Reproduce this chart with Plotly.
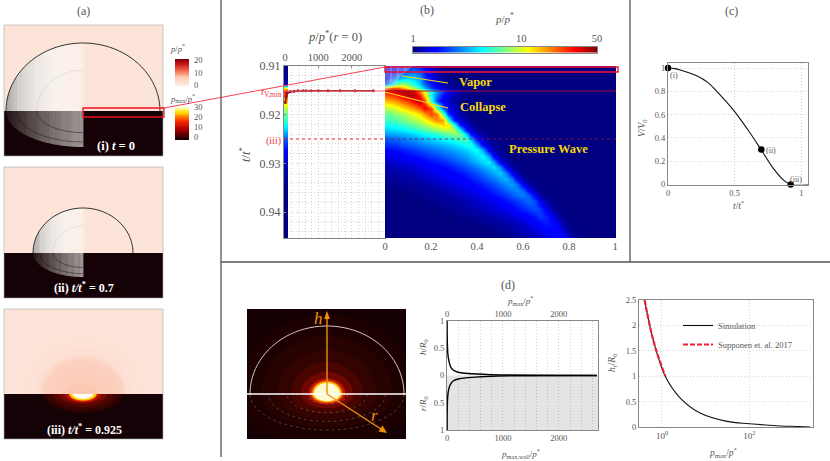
import numpy as np
import plotly.graph_objects as go

W, H = 830, 461
FONT = "Liberation Serif"
GREY = "#555555"

# ---------- panel (b): pressure field (jet level 0-9.5) ----------
r_cols = [i * .025 for i in range(41)]
t_rows = [.91, .91123, .91246, .9137, .91452, .91513, .91595, .91719, .91862, .91986, .92099, .92211, .92304,
          .92396, .92499, .92622, .92735, .92848, .92971, .93084, .93207, .9332, .93423, .93536, .93639, .93782,
          .93926, .9408, .94244, .94429, .94593]
levels = [
    [.8, .9, 1, 1.2, 1.5, 1.6, 1.4, 1, .6, .3, .1],
    [.9, 1, 1.4, 1.8, 2.2, 2.4, 2, 1.4, .8, .4, .1],
    [1, 1.8, 2.6, 3, 3.2, 3, 2.6, 1.6, 1, .5, .2, .1],
    [2, 3.2, 4.5, 5, 4.6, 3.8, 3, 2, 1.4, .8, .4, .2, .1],
    [7, 7.3, 7.5, 7, 6, 5, 3.8, 2.8, 1.8, 1.2, .7, .4, .2, .1],
    [8, 8.5, 8.8, 9, 9, 8.5, 7, 5.5, 3.8, 2.6, 1.8, 1, .7, .4, .2, .1],
    [7.5, 7.8, 8.2, 8.6, 9, 9, 8, 6, 3.6, 2.2, 1.3, .8, .4, .2, .1],
    [6.5, 6.7, 7, 7.4, 7.8, 8.4, 8.9, 7.5, 4, 1.8, 1, .6, .3, .1],
    [5.3, 5.5, 5.8, 6.2, 6.6, 7, 7.6, 8.4, 7.6, 4.5, 2, 1, .6, .3, .1],
    [4.5, 4.6, 4.9, 5.1, 5.4, 5.8, 6.2, 6.9, 7.7, 7.2, 4.5, 1.8, .8, .4, .1],
    [4.1, 4.2, 4.4, 4.6, 4.9, 5.2, 5.5, 5.9, 6.5, 7.1, 6.8, 4, 1.5, .7, .3, .1],
    [3.6, 3.7, 3.8, 4, 4.2, 4.5, 4.8, 5.1, 5.5, 5.9, 6.3, 6.2, 4, 1.5, .7, .3, .1],
    [3.1, 3.2, 3.3, 3.4, 3.6, 3.8, 4.1, 4.3, 4.6, 4.9, 5.2, 5.4, 5.3, 3.6, 1.4, .6, .2, .1],
    [2.6, 2.7, 2.8, 2.9, 3, 3.2, 3.4, 3.6, 3.8, 4, 4.3, 4.5, 4.8, 4.7, 3.2, 1.3, .6, .2, .1],
    [2, 2.1, 2.2, 2.3, 2.5, 2.6, 2.8, 3, 3.1, 3.3, 3.5, 3.7, 3.9, 4.2, 4.2, 2.9, 1.2, .5, .2, .1],
    [1.6, 1.6, 1.7, 1.9, 2, 2.1, 2.3, 2.4, 2.6, 2.7, 2.9, 3, 3.2, 3.4, 3.7, 3.9, 2.7, 1.1, .5, .2, .1],
    [1.2, 1.2, 1.3, 1.4, 1.5, 1.7, 1.8, 2, 2.1, 2.3, 2.4, 2.6, 2.7, 2.9, 3.1, 3.4, 3.7, 2.7, 1, .4, .1],
    [.9, .9, 1, 1.1, 1.2, 1.3, 1.4, 1.5, 1.7, 1.8, 2, 2.1, 2.3, 2.5, 2.7, 3, 3.3, 3.6, 2.6, 1, .4, .1],
    [.6, .6, .7, .8, .8, .9, 1, 1.1, 1.3, 1.4, 1.5, 1.7, 1.9, 2.1, 2.3, 2.6, 2.9, 3.2, 3.5, 2.6, 1, .3, .1],
    [.4, .4, .5, .5, .6, .7, .8, .9, 1, 1.1, 1.2, 1.3, 1.5, 1.7, 1.9, 2.1, 2.4, 2.7, 3, 3.3, 2.5, 1, .3, .1],
    [.3, .3, .3, .4, .4, .5, .6, .7, .8, .9, 1, 1.1, 1.2, 1.3, 1.5, 1.7, 1.9, 2.2, 2.5, 2.8, 3.1, 2.4, 1, .3, .1],
    [.2, .2, .2, .3, .3, .3, .4, .5, .6, .7, .8, .9, 1, 1.1, 1.2, 1.4, 1.6, 1.8, 2.1, 2.3, 2.6, 2.9, 2.3, 1, .3, .1],
    [.1, .1, .1, .2, .2, .2, .3, .3, .4, .5, .6, .7, .8, .9, 1, 1.1, 1.3, 1.5, 1.7, 1.9, 2.2, 2.5, 2.7, 2.2, 1, .3, .1],
    [0, 0, 0, .1, .1, .1, .2, .2, .3, .3, .4, .5, .6, .7, .8, .9, 1, 1.2, 1.4, 1.6, 1.8, 2.1, 2.3, 2.5, 2.1, 1, .3, .1],
    [0, 0, 0, 0, 0, .1, .1, .1, .2, .2, .3, .3, .4, .5, .6, .7, .8, 1, 1.1, 1.3, 1.5, 1.7, 2, 2.2, 2.4, 2, 1, .3, .1],
    [0, 0, 0, 0, 0, 0, 0, .1, .1, .1, .2, .2, .3, .3, .4, .5, .6, .7, .8, .9, 1.1, 1.3, 1.5, 1.7, 1.9, 2.2, 1.9, 1, .3, .1],
    [0, 0, 0, 0, 0, 0, 0, 0, 0, 0, .1, .1, .2, .2, .3, .3, .4, .5, .6, .7, .8, .9, 1.1, 1.3, 1.5, 1.7, 1.9, 1.7, 1, .3, .1],
    [0, 0, 0, 0, 0, 0, 0, 0, 0, 0, 0, 0, 0, .1, .1, .2, .2, .3, .3, .4, .5, .6, .7, .9, 1, 1.2, 1.4, 1.7, 1.5, 1, .3, .1],
    [0, 0, 0, 0, 0, 0, 0, 0, 0, 0, 0, 0, 0, 0, 0, 0, 0, .1, .1, .2, .2, .3, .4, .5, .6, .8, 1, 1.2, 1.4, 1.3, .9, .3, .1],
    [0, 0, 0, 0, 0, 0, 0, 0, 0, 0, 0, 0, 0, 0, 0, 0, 0, 0, 0, 0, .1, .1, .2, .3, .4, .5, .6, .8, 1, 1.2, 1.2, .9, .3, .1],
    [0, 0, 0, 0, 0, 0, 0, 0, 0, 0, 0, 0, 0, 0, 0, 0, 0, 0, 0, 0, 0, 0, 0, 0, .1, .2, .3, .4, .5, .7, .9, 1.1, 1, .3, .1],
]
# colour of the narrow strip at r = 0, same rows as t_rows
axis_levels = [.1, .1, .2, .5, 6, 8, 7.5, 6.5, 5.3, 4.5, 4.1, 3.6, 3.1, 2.6, 2, 1.6, 1.2, .9, .6, .4, .3, .2, .1, .05, 0,
               0, 0, 0, 0, 0, 0]
p_axis_t = [.9175, .9162, .9156, .9153, .9152, .9151, .9151, .9151, .9151, .9151, .9151, .9151, .9151, .9151]
p_axis_p = [10, 30, 60, 150, 270, 390, 540, 630, 780, 1000, 1290, 1650, 2100, 2650]

# ---------- panel (c) ----------
c_t = [0, .05, .1, .215, .3, .366, .5, .617, .7, .79, .867, .92, 1.05]
c_v = [1, .995, .98, .934, .875, .80, .626, .44, .296, .138, .037, 0, 0]
c_mark_t = [0, .7, .92]
c_mark_v = [1, .3, 0]

# ---------- panel (d) ----------
d_h = [1, .8, .6, .5, .4, .3, .2, .15, .1, .06, .04, .02, .01, .005, 0]
d_ph = [2, 3, 6, 10, 15, 28, 50, 70, 110, 200, 320, 700, 1100, 1700, 2680]
d_r = [1, .8, .6, .4, .3, .2, .15, .1, .06, .03, .01, .005, 0]
d_pr = [2, 3, 5, 12, 22, 45, 70, 110, 220, 500, 900, 1500, 2680]
sim_p = [.40, .645, 1.19, 2.63, 7.5, 31, 100, 430, 1300, 2500]
sim_h = [2.5, 1.68, 1.0, .57, .275, .11, .065, .026, .01, 0]
sup_p = [.40, .645, 1.19]
sup_h = [2.5, 1.68, 1.0]

fig = go.Figure()
n_ax = 0

JET = [[0, "rgb(0,0,128)"], [.11, "rgb(0,0,255)"], [.125, "rgb(0,0,255)"], [.375, "rgb(0,255,255)"],
       [.625, "rgb(255,255,0)"], [.875, "rgb(255,0,0)"], [1, "rgb(128,0,0)"]]


def new_axes(x0, x1, y0, y1, xa, ya):
    """axes placed by canvas pixels"""
    global n_ax
    n_ax += 1
    s = "" if n_ax == 1 else str(n_ax)
    base = dict(showgrid=False, zeroline=False, ticks="", showticklabels=False, automargin=False,
                tickfont=dict(family=FONT, size=9, color=GREY))
    fig.layout["xaxis" + s] = dict(base, domain=[x0 / W, x1 / W], anchor="y" + s, **xa)
    fig.layout["yaxis" + s] = dict(base, domain=[1 - y1 / H, 1 - y0 / H], anchor="x" + s, **ya)
    return "x" + s, "y" + s


FRAME = dict(showline=True, linecolor="#888888", linewidth=1, mirror=True)
DOT = "rgba(120,120,120,.3)"
DASH = "1px,2px"

# colourbars of (a)
rd = [[0, "#fff0e8"], [.35, "#fdc8b0"], [.6, "#f06040"], [.85, "#c01018"], [1, "#7a0008"]]
hot = [[0, "#0a0000"], [.35, "#b00000"], [.6, "#ff3000"], [.85, "#ffe000"], [1, "#ffffc0"]]
ramp = list(np.linspace(0, 1, 40))
xa, ya = new_axes(175, 189, 59, 86, dict(range=[0, 1]), dict(range=[0, 21.5]))
fig.add_heatmap(x=[0, 1], y=list(np.linspace(0, 21.5, 40)), z=[[v, v] for v in ramp], colorscale=rd,
                showscale=False, zsmooth="best", xaxis=xa, yaxis=ya)
xa, ya = new_axes(175, 189, 107, 140, dict(range=[0, 1]), dict(range=[-3, 30]))
fig.add_heatmap(x=[0, 1], y=list(np.linspace(-3, 30, 40)), z=[[v, v] for v in ramp], colorscale=hot,
                showscale=False, zsmooth="best", xaxis=xa, yaxis=ya)

# left strip of (b)
T_BOT = .91 + (238 - 66) / 4870
SCALE = np.log10(50) / 9.5
xa, ya = new_axes(284, 385, 66, 238,
                  dict(FRAME, range=[-30, 3000], side="top", showticklabels=True, tickvals=[0, 1000, 2000],
                       tickfont=dict(family=FONT, size=10.5, color=GREY), ticks="inside", ticklen=2,
                       tickcolor="#888", minor=dict(dtick=200, showgrid=True, gridcolor=DOT, griddash=DASH, gridwidth=.7)),
                  dict(FRAME, range=[T_BOT, .91], showticklabels=True, tickvals=[.91, .92, .93, .94],
                       ticktext=["0.91", "0.92", "0.93", "0.94"],
                       tickfont=dict(family=FONT, size=12, color=GREY), ticks="inside", ticklen=2,
                       tickcolor="#888", minor=dict(dtick=.002, showgrid=True, gridcolor=DOT, griddash=DASH, gridwidth=.7)))
z_vals = np.array([r + [0] * (41 - len(r)) for r in levels], float) * SCALE
fig.add_heatmap(x=[-30, 48], y=t_rows, z=[[v * SCALE, v * SCALE] for v in axis_levels], colorscale=JET,
                zmin=0, zmax=np.log10(50), showscale=False, zsmooth="best", xaxis=xa, yaxis=ya)
fig.add_scatter(x=p_axis_p, y=p_axis_t, mode="lines+markers", line=dict(color="#7a0a14", width=1.5),
                marker=dict(color="#a01020", size=3), showlegend=False, xaxis=xa, yaxis=ya)

# main map of (b)
xa, ya = new_axes(385, 616, 66, 238,
                  dict(range=[0, 1.004], showticklabels=True, side="bottom", tickvals=[0, .2, .4, .6, .8, 1],
                       ticktext=["0", "0.2", "0.4", "0.6", "0.8", "1"],
                       tickfont=dict(family=FONT, size=10.5, color=GREY)),
                  dict(range=[T_BOT, .91]))
fig.add_heatmap(x=r_cols, y=t_rows, z=z_vals.tolist(), colorscale=JET, zmin=0, zmax=np.log10(50),
                showscale=False, zsmooth="best", xaxis=xa, yaxis=ya)

# colourbar of (b)
cb_vals = list(np.linspace(0, np.log10(50), 80))
xa, ya = new_axes(413, 597, 47, 52.5,
                  dict(FRAME, range=[0, np.log10(50)], side="top", showticklabels=True, tickvals=[0, 1, np.log10(50)],
                       ticktext=["1", "10", "50"], tickfont=dict(family=FONT, size=10.5, color=GREY)),
                  dict(FRAME, range=[0, 1]))
fig.add_heatmap(x=cb_vals, y=[0, 1], z=[cb_vals, cb_vals], colorscale=JET, zmin=0, zmax=np.log10(50),
                showscale=False, zsmooth="best", xaxis=xa, yaxis=ya)

# panel (c)
small = dict(family=FONT, size=8.5, color=GREY)
xa, ya = new_axes(668, 808, 63, 184.5,
                  dict(FRAME, range=[0, 1.05], showticklabels=True, tickvals=[0, .5, 1], ticktext=["0", "0.5", "1"],
                       tickfont=small, showgrid=True, gridcolor=DOT, griddash=DASH, gridwidth=.7),
                  dict(FRAME, range=[0, 1.043], showticklabels=True, tickvals=[0, .2, .4, .6, .8, 1],
                       ticktext=["0", "0.2", "0.4", "0.6", "0.8", "1"], tickfont=small,
                       showgrid=True, gridcolor=DOT, griddash=DASH, gridwidth=.7))
fig.add_scatter(x=c_t, y=c_v, mode="lines", line=dict(color="#111", width=1.1, shape="spline"),
                showlegend=False, xaxis=xa, yaxis=ya)
fig.add_scatter(x=c_mark_t, y=c_mark_v, mode="markers", marker=dict(color="#000", size=6.5), cliponaxis=False,
                showlegend=False, xaxis=xa, yaxis=ya)

# panel (d) middle
xa, ya = new_axes(447, 598, 321, 430,
                  dict(FRAME, range=[0, 2700], showticklabels=True, tickvals=[0, 1000, 2000], tickfont=small,
                       minor=dict(dtick=200, showgrid=True, gridcolor="rgba(120,120,120,.35)", griddash=DASH, gridwidth=.7)),
                  dict(FRAME, range=[-1, 1], showticklabels=True, tickvals=[-1, -.5, 0, .5, 1],
                       ticktext=["1", "0.5", "0", "0.5", "1"], tickfont=small))
fig.add_shape(type="rect", xref=xa, yref=ya, x0=0, x1=2700, y0=-1, y1=0, fillcolor="#e4e4e4",
              line_width=0, layer="below")
fig.add_scatter(x=d_ph, y=d_h, mode="lines", line=dict(color="#000", width=1.4, shape="spline"),
                showlegend=False, xaxis=xa, yaxis=ya)
fig.add_scatter(x=d_pr, y=[-v for v in d_r], mode="lines", line=dict(color="#000", width=1.4, shape="spline"),
                showlegend=False, xaxis=xa, yaxis=ya)
# top tick axis of (d) middle
xa2, ya2 = new_axes(447, 598, 320, 321,
                    dict(range=[0, 2700], side="top", showticklabels=True, tickvals=[0, 1000, 2000], tickfont=small),
                    dict(range=[0, 1]))
fig.add_scatter(x=[0], y=[-1], mode="markers", marker=dict(opacity=0), showlegend=False, hoverinfo="skip",
                xaxis=xa2, yaxis=ya2)

# panel (d) right
xa, ya = new_axes(639, 813, 300, 427,
                  dict(FRAME, type="log", range=[-.526, 3.46], showticklabels=True, tickvals=[1, 100],
                       ticktext=["10<sup>0</sup>", "10<sup>2</sup>"], tickfont=dict(family=FONT, size=9, color=GREY),
                       showgrid=True, gridcolor=DOT, griddash=DASH, gridwidth=.7),
                  dict(FRAME, range=[0, 2.5], showticklabels=True, tickvals=[0, .5, 1, 1.5, 2, 2.5],
                       ticktext=["0", "0.5", "1", "1.5", "2", "2.5"], tickfont=small,
                       showgrid=True, gridcolor=DOT, griddash=DASH, gridwidth=.7))
fig.add_scatter(x=sim_p, y=sim_h, mode="lines", name="Simulation", line=dict(color="#111", width=1.1, shape="spline"),
                xaxis=xa, yaxis=ya)
fig.add_scatter(x=sup_p, y=sup_h, mode="lines", name="Supponen et. al. 2017",
                line=dict(color="#f02038", width=2.2, dash="5px,2px", shape="spline"), xaxis=xa, yaxis=ya)

# overlay axes in canvas pixels, for the illustrations
ox, oy = new_axes(0, 830, 0, 461, dict(range=[0, W], visible=False), dict(range=[H, 0], visible=False))
shapes = []


def sh(path, fill=None, line=None, lw=1, dash=None):
    d = dict(type="path", path=path, xref=ox, yref=oy, layer="above")
    d["fillcolor"] = fill if fill else "rgba(0,0,0,0)"
    d["line"] = dict(color=line, width=lw, dash=dash) if line else dict(width=0)
    shapes.append(d)


def poly(xs, ys, close=True):
    p = "M" + " L".join(f"{x:.2f},{y:.2f}" for x, y in zip(xs, ys))
    return p + (" Z" if close else "")


def rect(x0, y0, x1, y1, fill=None, line=None, lw=1):
    sh(poly([x0, x1, x1, x0], [y0, y0, y1, y1]), fill, line, lw)


def seg(x0, y0, x1, y1, color, lw=1, dash=None):
    sh(poly([x0, x1], [y0, y1], False), None, color, lw, dash)


def half(cx, cy, rx, ry, a0=0, a1=np.pi, xlim=None, ylim=None):
    a = np.linspace(a0, a1, 50)
    x = cx + rx * np.cos(a)
    y = cy + ry * np.sin(a)
    if xlim:
        x = np.clip(x, *xlim)
    if ylim:
        y = np.clip(y, *ylim)
    return x, y


def strips(cx, cy, rx, ry, greys, n=42):
    rgb = np.array([[int(g[i:i + 2], 16) for i in (1, 3, 5)] for g in greys], float)
    edges = np.linspace(cx - rx, cx, n + 1)
    pos = np.linspace(0, 1, len(greys))
    for i in range(n):
        f = (i + .5) / n
        col = "rgb(%d,%d,%d)" % tuple(np.interp(f, pos, rgb[:, j]) for j in range(3))
        xs = np.linspace(edges[i], edges[i + 1] + .4, 3)
        u = np.clip((xs - cx) / rx, -1, 1)
        ys = cy + ry * np.sqrt(1 - u ** 2)
        sh(poly([xs[0], *xs, xs[-1]], [cy, *ys, cy]), col)


BG = "#fde4d9"
DARK = "#150206"
up_grey = ["#a5a1a0", "#bdb9b7", "#cecac8", "#dbd7d4", "#e4e0dc", "#ebe6e2", "#f0ebe7", "#f4efea", "#f7f1ec",
           "#f9f2ed", "#faf2ec", "#fbf1ea", "#fcf0e9", "#fcefe7"]
dn_grey = ["#231316", "#2f2023", "#3c2e30", "#483b3c", "#534748", "#5e5353", "#685e5e", "#726868", "#7b7272",
           "#837b7a", "#8b8382", "#928b8a", "#999291", "#9f9897"]
for (y0, ys, y1, cx, rx, ru, rd_) in [(25, 111, 156, 83, 77, 68, 36), (167, 253, 298, 83, 50, 45, 24)]:
    rect(4, y0, 163, ys, BG)
    rect(4, ys, 163, y1, DARK)
    strips(cx, ys, rx, -ru, up_grey)
    strips(cx, ys, rx, rd_, dn_grey)
    for f in (.34, .6, .84):
        seg(cx - rx * f, ys, cx - rx * f, ys - ru * np.sqrt(1 - f * f), "rgba(255,255,255,.35)", .8)
    for f in (.86, .6):
        x, y = half(cx, ys, rx * f, rd_ * f, np.pi / 2, np.pi)
        sh(poly(x, y, False), None, "rgba(20,20,20,.7)", .7)
    x, y = half(cx, ys, rx * .6, -ru * .6, np.pi / 2, np.pi)
    sh(poly(x, y, False), None, "rgba(120,120,120,.2)", .7)
    x, y = half(cx, ys, rx, -ru)
    sh(poly(x, y, False), None, "#333333", 1)
    rect(4, y0, 163, y1, None, "#aaaaaa", .6)

# panel (iii)
rect(4, 309, 163, 394, BG)
rect(4, 394, 163, 439, DARK)
for rx, ry, c in [(72, 70, "#fde3d8"), (60, 58, "#fde2d6"), (48, 46, "#fde0d3"), (43, 39, "#fcdacb"),
                  (41, 36, "#fcd4c3"), (39, 33, "#fbd0be"), (30, 24, "#fbcdba"), (16, 10, "#fbc8b2")]:
    x, y = half(83, 394, rx, -ry)
    sh(poly(x, y), c)
for rx, ry, c in [(40, 19, "#280300"), (36, 16, "#3c0400"), (30, 13, "#540500"), (24, 10, "#780700"),
                  (18, 8.5, "#b01000"), (14.5, 7.5, "#f03000"), (13.5, 6.5, "#ffc800"), (11, 5.2, "#fff2a0"), (9.5, 4.2, "#ffffff")]:
    x, y = half(83, 394, rx, ry)
    sh(poly(x, y), c)
rect(4, 309, 163, 439, None, "#aaaaaa", .6)

# red link, boxes, guide lines
rect(83, 108, 164, 117, None, "#f01020", 1.3)
seg(164, 108, 385, 67, "#f84050", 1)
seg(284, 91, 385, 91, "#f06070", 1)
seg(385, 91, 616, 91, "#a01038", 1.1)
seg(284, 139, 385, 139, "#f01828", 1, "dot")
seg(385, 139, 616, 139, "#901840", .8, "dot")

# vapour veil of (b)
sh(poly([385, 413, 400, 395, 385], [66, 66, 77, 86, 90.5]), "rgba(215,215,230,.42)")
for x in (391, 398, 405):
    seg(x, 66, x, 66 + (86 - 66) * (1 - (x - 385) / 30), "rgba(230,230,240,.5)", .9)
rect(385, 67, 618, 72, None, "#f01030", 1.4)
seg(402, 76, 448, 83, "#f5d90a", 1.2)
seg(385, 92, 448, 108, "#f5d90a", 1.2)

# separators
SEP = "#555555"
seg(221, 0, 221, 457, SEP, 1.3)
seg(221, 262, 830, 262, SEP, 1.3)
seg(630, 0, 630, 262, SEP, 1.3)

# picture of (d)
L, R, T, B = 247, 406, 309, 439
rect(L, T, R, B, "#150004")
for rx, ru, rb, c in [(90, 80, 50, "#1c0100"), (66, 58, 34, "#260200"), (50, 44, 26, "#320300"), (36, 32, 19, "#480500"),
                      (26, 22, 14, "#700800"), (18.5, 15.5, 10.5, "#b81800"), (16, 13.5, 9, "#f05000"),
                      (14.5, 12.5, 8, "#ffc000"), (13, 11, 7, "#fffad0")]:
    a, b = half(327, 394, rx, -ru, xlim=(L, R), ylim=(T, B))
    c_, d_ = half(327, 394, rx, rb, xlim=(L, R), ylim=(T, B))
    sh(poly([*a, *c_[::-1]], [*b, *d_[::-1]]), c)
for f in (.27, .52, .76, 1):
    x, y = half(327, 394, 77 * f, 36 * f)
    sh(poly(x, y, False), None, "rgba(200,190,190,.5)", .6, "dot")
x, y = half(327, 394, 77, -68)
sh(poly(x, y, False), None, "#cfc6c6", 1)
seg(L, 394, R, 394, "#ffffff", 1.6)
seg(327, 394, 327, 315, "#f09010", 1.4)
seg(327, 394, 384, 431, "#f09010", 1.4)
sh(poly([327, 324.2, 329.8], [311, 319, 319]), "#f09010")
sh(poly([387, 378.5, 382.5], [433, 431.5, 425.5]), "#f09010")

fig.update_layout(shapes=list(fig.layout.shapes) + shapes)


def T_(x, y, s, size=10, color=GREY, angle=0, anchor="center"):
    fig.add_annotation(x=x / W, y=1 - y / H, xref="paper", yref="paper", text=s, showarrow=False, textangle=angle,
                       xanchor=anchor, yanchor="middle", font=dict(family=FONT, size=size, color=color))


T_(83, 11, "(a)", 12)
T_(427, 10, "(b)", 12)
T_(731, 11, "(c)", 12)
T_(508, 285, "(d)", 12)
T_(177, 48, "<i>p</i>/<i>p</i><sup>*</sup>", 8.5)
T_(182, 98, "<i>p</i><sub>max</sub>/<i>p</i><sup>*</sup>", 8.5)
for y, s in [(60, "20"), (73, "10"), (85, "0")]:
    T_(192, y, s, 8.5, anchor="left")
for y, s in [(107, "30"), (117, "20"), (127, "10"), (137, "0")]:
    T_(192, y, s, 8.5, anchor="left")
W_ = "#ffffff"
T_(116, 146, "<b>(i) <i>t</i> = 0</b>", 12.5, W_)
T_(84, 287, "<b>(ii) <i>t/t</i><sup>*</sup> = 0.7</b>", 12, W_)
T_(84, 429, "<b>(iii) <i>t/t</i><sup>*</sup> = 0.925</b>", 12, W_)
T_(335, 36, "<i>p</i>/<i>p</i><sup>*</sup>(<i>r</i> = 0)", 12.5)
T_(245, 155, "<i>t</i>/<i>t</i><sup>*</sup>", 12.5, angle=-90)
T_(504, 18, "<i>p</i>/<i>p</i><sup>*</sup>", 11)
T_(273, 141, "(iii)", 10, "#f04048")
T_(271, 92, "<i>t</i><sub>V,min</sub>", 10.5, "#f04048")
Y_ = "#f5d90a"
T_(475, 82, "<b>Vapor</b>", 12.5, Y_)
T_(483, 107, "<b>Collapse</b>", 12.5, Y_)
T_(548, 149, "<b>Pressure Wave</b>", 12.5, Y_)
T_(738, 205, "<i>t</i>/<i>t</i><sup>*</sup>", 9.5)
T_(643, 128, "<i>V</i>/<i>V</i><sub>0</sub>", 9.5, angle=-90)
T_(674, 75, "(i)", 8)
T_(771, 150, "(ii)", 8)
T_(796, 180, "(iii)", 8)
T_(520, 300, "<i>p</i><sub>max</sub>/<i>p</i><sup>*</sup>", 9)
T_(520, 453, "<i>p</i><sub>max,wall</sub>/<i>p</i><sup>*</sup>", 9)
T_(423, 347, "<i>h</i>/<i>R</i><sub>0</sub>", 9, angle=-90)
T_(423, 403, "<i>r</i>/<i>R</i><sub>0</sub>", 9, angle=-90)
T_(612, 363, "<i>h</i><sub>i</sub>/<i>R</i><sub>0</sub>", 9.5, angle=-90)
T_(723, 452, "<i>p</i><sub>max</sub>/<i>p</i><sup>*</sup>", 9.5)
T_(318, 318, "<i>h</i>", 17, "#f09010")
T_(374, 415, "<i>r</i>", 17, "#f09010")

fig.update_layout(
    template="none",
    width=W, height=H, margin=dict(l=0, r=0, t=0, b=0, pad=0), paper_bgcolor="white", plot_bgcolor="rgba(0,0,0,0)",
    legend=dict(x=678 / W, y=1 - 311 / H, xanchor="left", yanchor="top", bgcolor="rgba(0,0,0,0)", itemwidth=30,
                font=dict(family=FONT, size=8.5, color=GREY), tracegroupgap=0),
    font=dict(family=FONT),
)

fig.write_html("out.html", config=dict(displayModeBar=False),
               post_script="document.body.style.margin='0';document.body.style.overflow='hidden';")
